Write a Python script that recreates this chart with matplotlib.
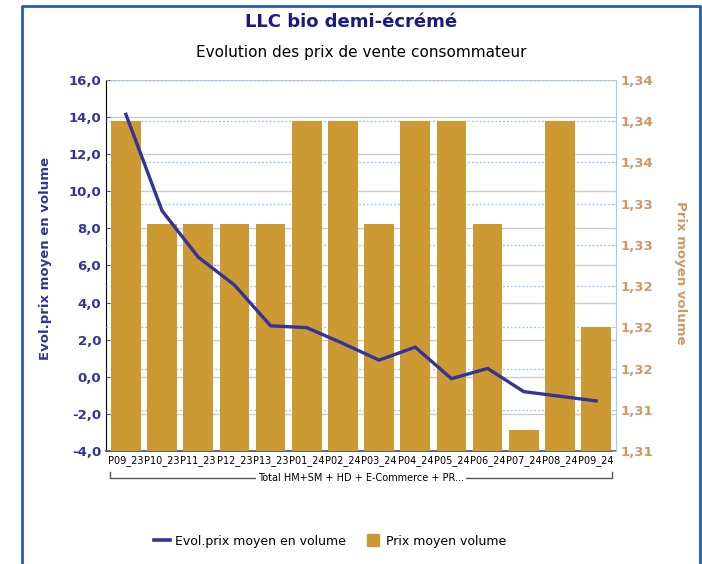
import matplotlib
matplotlib.use("Agg")
import matplotlib.pyplot as plt
from matplotlib.ticker import FuncFormatter, MultipleLocator
from matplotlib.lines import Line2D
import numpy as np

categories = ["P09_23", "P10_23", "P11_23", "P12_23", "P13_23", "P01_24", "P02_24",
              "P03_24", "P04_24", "P05_24", "P06_24", "P07_24", "P08_24", "P09_24"]
prix_moyen = [1.34, 1.33, 1.33, 1.33, 1.33, 1.34, 1.34, 1.33, 1.34, 1.34, 1.33, 1.31, 1.34, 1.32]
evol_prix = [14.15, 8.95, 6.45, 4.95, 2.75, 2.65, 1.8, 0.9, 1.6, -0.1, 0.45, -0.8, -1.05, -1.3]
group_label = "Total HM+SM + HD + E-Commerce + PR..."

plt.rcParams['font.family'] = ['DejaVu Sans']

fig = plt.figure(figsize=(7.02, 5.64), dpi=100)
ax1 = fig.add_axes([106/702, 1-451/564, (616-106)/702, (451-80)/564])

left_col = "#333399"
right_col = "#CC9966"
bar_col = "#CC9933"

x = np.arange(len(categories))

# left axis
ax1.set_ylim(-4, 16)
ax1.yaxis.set_major_locator(MultipleLocator(2))
ax1.yaxis.set_major_formatter(FuncFormatter(lambda v, p: f"{v:.1f}".replace(".", ",")))
ax1.grid(axis='y', color="#cccccc", linewidth=1.0, linestyle='-')
ax1.set_axisbelow(True)
ax1.set_xlim(-0.55, len(categories) - 0.45)
ax1.set_xticks(x)
ax1.set_xticklabels(categories, fontsize=7, color="black")
ax1.tick_params(axis='x', length=0, pad=3)
ax1.tick_params(axis='y', colors=left_col, labelsize=9.5, length=3, direction='in', width=0.6)
for lab in ax1.get_yticklabels():
    lab.set_fontweight('bold')
ax1.set_ylabel("Evol.prix moyen en volume", color=left_col, fontsize=9.5,
               fontweight='bold')
ax1.yaxis.set_label_coords(-0.105, 0.52)
ax1.spines['top'].set_visible(False)
ax1.spines['right'].set_visible(False)
ax1.spines['left'].set_color("black")
ax1.spines['bottom'].set_color("#555555")
ax1.spines['bottom'].set_linewidth(1.3)

# right axis with bars
ax2 = ax1.twinx()
ax2.set_ylim(1.308, 1.344)
ax2.yaxis.set_major_locator(MultipleLocator(0.004))
ax2.yaxis.set_major_formatter(FuncFormatter(lambda v, p: f"{v:.2f}".replace(".", ",")))
ax2.grid(axis='y', color="#8fc3ff", linewidth=1.0, linestyle=(0, (1.2, 1.6)))
ax2.set_axisbelow(True)
ax2.bar(x, prix_moyen, width=0.82, color=bar_col, bottom=0, zorder=2)
ax2.set_ylim(1.308, 1.344)
ax2.tick_params(axis='y', colors=right_col, labelsize=9.5, length=3, direction='in', width=0.6)
for lab in ax2.get_yticklabels():
    lab.set_fontweight('bold')
ax2.tick_params(axis='y', color="#99ccff")
ax2.set_ylabel("Prix moyen volume", color=right_col, fontsize=9.5, fontweight='bold',
               rotation=270)
ax2.yaxis.set_label_coords(1.14, 0.48)
ax2.spines['top'].set_visible(False)
ax2.spines['left'].set_visible(False)
ax2.spines['bottom'].set_visible(False)
ax2.spines['right'].set_color("#99ccff")

# line axis (same scale as left)
ax3 = ax1.twinx()
ax3.set_ylim(ax1.get_ylim())
line, = ax3.plot(x, evol_prix, color=left_col, linewidth=2.4, solid_joinstyle='miter',
                 label="Evol.prix moyen en volume")
ax3.axis('off')

# group bracket
tr = ax1.get_xaxis_transform()
yb = -0.072
ax1.plot([-0.45, -0.45, 13.45, 13.45], [yb + 0.016, yb, yb, yb + 0.016], transform=tr,
         color="#555555", linewidth=1.0, clip_on=False)
ax1.text(6.5, yb, group_label, transform=tr, ha='center', va='center', fontsize=7,
         color="black", bbox=dict(facecolor='white', edgecolor='none', pad=1.5))

# titles
fig.text(351/702, 1-22/564, "LLC bio demi-écrémé", ha='center', va='center',
         fontsize=13, fontweight='bold', color="#1a1a80")
fig.text(361/702, 1-52/564, "Evolution des prix de vente consommateur", ha='center',
         va='center', fontsize=11, color="black")

# legend
handles = [Line2D([], [], color=left_col, linewidth=2.6),
           Line2D([], [], marker='s', linestyle='none', markersize=8, color=bar_col)]
fig.legend(handles, ["Evol.prix moyen en volume", "Prix moyen volume"],
           loc='center', bbox_to_anchor=(330/702, 1-541/564), ncol=2, frameon=False,
           fontsize=9, handlelength=1.3, columnspacing=1.5, handletextpad=0.4)

# outer border
fig.add_artist(Line2D([22/702, 22/702, 700/702, 700/702], [0, 1-6/564, 1-6/564, 0],
                      transform=fig.transFigure, color="#1f5fb0", linewidth=2.0))

fig.savefig("out.png", dpi=100)
